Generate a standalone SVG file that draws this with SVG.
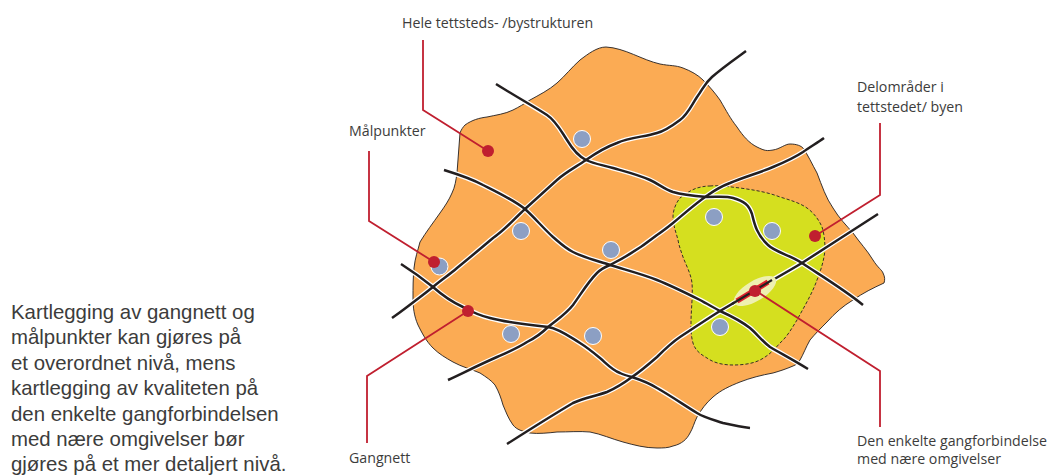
<svg xmlns="http://www.w3.org/2000/svg" width="1052" height="475" viewBox="0 0 1052 475">
<style>
.road{fill:none;stroke-linecap:butt;stroke-linejoin:round}
.halo{stroke:#fff;stroke-width:5}
.core{stroke:#231f20;stroke-width:2.5}
.lead{fill:none;stroke:#c01f2f;stroke-width:1.8}
.dot{fill:#c01f2f}
.poi{fill:#8c9fc3;stroke:#fff;stroke-width:1}
.lab{font-family:"Open Sans","Noto Sans",sans-serif;font-size:14.2px;fill:#3c3c3b}
.para{font-family:"Liberation Sans",Arial,sans-serif;font-size:20.4px;fill:#3c3c3b}
</style>
<defs>
<path id="r1" d="M496,84C515,96 533,106 547,115C556,121 561,131 567,140C573,150 578,156 586,160C594,164 603,165 613,168C627,172 639,175 650,180C659,184 664,189 673,192C683,195 695,196 707,197C718,197 726,196 733,198C744,201 749,205 752,214C754,222 756,234 768,245C775,252 790,255 802,263C820,275 845,290 863,305"/>
<path id="r2" d="M746,51C735,59 722,68 712,77C704,84 703,89 697,97C691,106 688,114 680,120C672,126 665,131 657,133C645,137 630,137 617,143C606,147 596,153 586,160C576,167 566,172 557,180C546,190 536,199 525,209C514,219 505,230 493,238C480,249 468,259 457,268C449,275 441,280 433,287C420,297 406,308 392,318"/>
<path id="r3" d="M444,170C457,174 470,178 483,185C497,192 512,199 525,209C535,218 543,228 553,237C560,243 565,248 573,252C585,258 598,261 610,265C626,270 642,274 657,280C672,286 686,293 700,300C707,304 713,307 720,311C731,316 741,321 750,328C757,334 762,341 770,347C782,354 795,361 808,369"/>
<path id="r4" d="M401,264C412,271 423,279 433,287C442,295 452,302 463,307C472,312 481,316 490,318C509,323 529,325 548,327C560,329 570,337 580,343C588,348 594,353 600,358C607,364 612,370 620,373C624,375 628,376 632,377C641,380 649,383 657,388C671,396 684,405 697,413C705,418 714,420 723,423C732,425 741,427 750,428"/>
<path id="r5" d="M448,380C465,372 481,364 497,357C508,352 518,348 527,342C535,338 542,333 548,327C558,319 566,314 573,305C581,294 588,282 597,273C601,269 605,267 610,265C626,257 642,247 657,235C663,231 668,227 673,223C685,213 696,203 708,195C715,190 722,186 730,183C744,177 759,173 773,167C785,162 794,158 803,152C810,147 817,143 824,138"/>
<path id="r6" d="M507,444C529,430 551,416 573,403C584,398 596,396 607,392C616,388 624,383 632,377C641,371 649,364 657,357C664,350 671,343 680,337C694,328 707,319 720,311C732,304 744,297 755,290C771,281 787,272 802,263C827,247 853,230 878,214"/>
</defs>
<rect width="1052" height="475" fill="#fff"/>
<g id="area-orange">
<path d="M606,47C625,48 642,60 660,64C670,66 675,65 683,68C691,71 698,75 703,80C710,87 715,93 720,100C727,112 730,118 737,127C743,136 749,143 757,147C765,151 767,151 773,150C780,149 785,144 790,144C797,144 801,146 803,148C808,155 812,164 817,173C822,186 826,198 833,208C839,218 846,225 853,233C860,243 867,250 873,260C878,268 882,270 883,273C885,277 885,280 884,283C873,288 863,293 853,300C843,306 835,313 827,322C820,329 815,334 810,340C806,347 803,355 800,360C798,363 796,365 793,366C786,369 780,371 773,373C762,375 750,378 740,382C730,386 721,390 713,397C706,403 701,410 697,417C694,423 693,428 690,433C687,439 682,444 673,446C668,448 663,448 657,448C645,448 634,445 623,442C612,439 601,434 590,432C580,431 568,432 557,432C548,433 538,434 530,433C522,431 517,430 513,425C508,418 506,412 503,405C501,398 499,392 495,385C491,380 486,377 480,373C471,369 462,367 453,362C446,358 439,354 433,348C426,341 422,333 418,325C414,316 413,307 413,298C413,288 413,278 414,268C415,258 418,250 420,242C426,232 433,223 440,213C445,206 449,200 452,193C455,187 456,180 457,173C458,160 459,146 460,133C461,130 463,127 465,125C472,120 479,118 487,117C496,115 505,114 513,110C519,107 524,104 530,100C539,95 549,90 557,83C565,76 572,67 580,60C588,54 597,47 606,47Z" fill="#fbab54" stroke="#231f20" stroke-width="0.9"/>
</g>
<g id="area-green">
<path d="M710,186C720,185 730,187 740,188C754,190 767,192 780,197C790,200 800,203 807,208C814,213 819,220 822,227C824,233 825,241 825,250C824,260 821,270 817,280C812,294 804,307 797,320C792,328 787,337 780,343C774,350 768,356 760,360C752,364 742,365 733,365C723,365 714,363 707,358C700,354 695,350 693,343C691,336 691,330 691,323C691,310 693,296 692,283C691,274 686,265 683,257C681,251 679,246 678,240C676,232 673,225 673,217C673,210 676,203 680,198C685,194 691,190 697,188C701,187 705,186 710,186Z" fill="#d5df1f" stroke="#231f20" stroke-width="0.9" stroke-dasharray="3.2 2"/>
</g>
<g id="connectors">
<g class="road halo"><use href="#r1"/><use href="#r2"/><use href="#r3"/><use href="#r4"/><use href="#r5"/><use href="#r6"/></g>
<g class="road core"><use href="#r1"/><use href="#r2"/><use href="#r3"/><use href="#r4"/><use href="#r5"/><use href="#r6"/></g>
</g>
<g id="points">
<circle class="poi" cx="582" cy="139" r="8.5"/>
<circle class="poi" cx="521" cy="231" r="8.5"/>
<circle class="poi" cx="611" cy="250" r="8.5"/>
<circle class="poi" cx="439.5" cy="266.5" r="8.5"/>
<circle class="poi" cx="511" cy="334" r="8.5"/>
<circle class="poi" cx="593" cy="336" r="8.5"/>
<circle class="poi" cx="714" cy="217" r="8.5"/>
<circle class="poi" cx="772" cy="231" r="8.5"/>
<circle class="poi" cx="720" cy="327" r="8.5"/>
</g>
<g id="single-link">
<ellipse cx="755" cy="291" rx="24" ry="10" transform="rotate(-31 755 291)" fill="#eef0b0"/>
<path d="M737,301L768,282" stroke="#e0202c" stroke-width="5.5" fill="none"/>
<path d="M732,304L772,280" stroke="#231f20" stroke-width="2.2" fill="none"/>
</g>
<g id="lead-whole"><path class="lead" d="M423,40V110L488,151"/><circle class="dot" cx="488" cy="151" r="6"/><text class="lab" x="402" y="28">Hele tettsteds- /bystrukturen</text></g>
<g id="lead-points"><path class="lead" d="M369,151V221L434,262"/><circle class="dot" cx="434" cy="262" r="6"/><text class="lab" x="349" y="136">Målpunkter</text></g>
<g id="lead-net"><path class="lead" d="M367,443V376L468,311"/><circle class="dot" cx="468" cy="311" r="6"/><text class="lab" x="349" y="463">Gangnett</text></g>
<g id="lead-sub"><path class="lead" d="M880,123V195L815,236"/><circle class="dot" cx="815" cy="236" r="6"/><text class="lab" x="857" y="92">Delområder i</text><text class="lab" x="857" y="112">tettstedet/ byen</text></g>
<g id="lead-link"><path class="lead" d="M880,427V371L756,291"/><circle class="dot" cx="755" cy="291" r="6"/><text class="lab" x="857" y="446">Den enkelte gangforbindelse</text><text class="lab" x="857" y="464">med nære omgivelser</text></g>
<g id="caption" class="para">
<text x="11" y="318.5">Kartlegging av gangnett og</text>
<text x="11" y="344">målpunkter kan gjøres på</text>
<text x="11" y="369.5">et overordnet nivå, mens</text>
<text x="11" y="395">kartlegging av kvaliteten på</text>
<text x="11" y="420.5">den enkelte gangforbindelsen</text>
<text x="11" y="446">med nære omgivelser bør</text>
<text x="11" y="471">gjøres på et mer detaljert nivå.</text>
</g>
</svg>
